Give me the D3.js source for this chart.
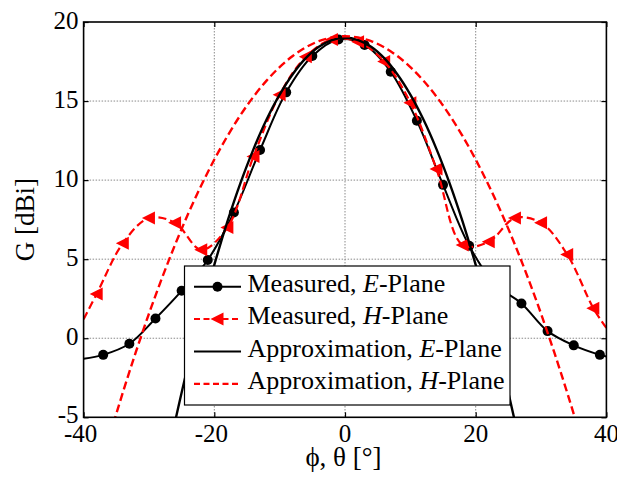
<!DOCTYPE html>
<html>
<head>
<meta charset="utf-8">
<script src="https://cdn.jsdelivr.net/npm/d3@7/dist/d3.min.js"></script>
<style>
  html, body { margin: 0; padding: 0; background: #fff; }
  svg { display: block; }
  text { font-family: "Liberation Serif", "Times New Roman", serif; fill: #000; }
</style>
</head>
<body>
<svg id="chart" width="617" height="478"></svg>
<script>
// Axis ticks
const xTicks = [-40, -20, 0, 20, 40];
const yTicks = [-5, 0, 5, 10, 15, 20];

// Measured gain, E-plane (markers every 4 degrees)
const measEAngle = [-37, -33, -29, -25, -21, -17, -13, -9, -5, -1, 3, 7, 11, 15, 19, 23, 27, 31, 35, 39];
const measEGain  = [-1.05, -0.35, 1.25, 3.0, 4.95, 7.95, 11.9, 15.55, 17.85, 18.9, 18.55, 16.85, 13.75, 9.7, 5.85, 3.4, 2.2, 0.45, -0.45, -1.05];
// Measured gain, H-plane
const measHAngle = [-38, -34, -30, -26, -22, -18, -14, -10, -6, -2, 2, 6, 10, 14, 18, 22, 26, 30, 34, 38];
const measHGain  = [2.8, 6.0, 7.6, 7.3, 5.6, 7.0, 11.5, 15.4, 17.8, 18.9, 18.75, 17.5, 14.9, 10.7, 5.9, 6.1, 7.6, 7.3, 5.3, 1.9];
// Measured traces continue to the axis limits without markers
const edgeAngle = [-40, 40];
const measEEdge = [-1.3, -1.15];
const measHEdge = [1.2, 0.65];

// Approximated patterns
const apprEAngle = [-28, -26, -24, -22, -20, -18, -16, -14, -12, -10, -8, -6, -4, -2, 0, 2, 4, 6, 8, 10, 12, 14, 16, 18, 20, 22, 24, 26, 28];
const apprEGain  = [-9.1, -5.27, -1.68, 1.62, 4.64, 7.37, 9.81, 11.96, 13.83, 15.41, 16.7, 17.71, 18.43, 18.86, 19.0, 18.86, 18.43, 17.71, 16.7, 15.41, 13.83, 11.96, 9.81, 7.37, 4.64, 1.62, -1.68, -5.27, -9.1];
const apprHAngle = [-38, -36, -34, -32, -30, -28, -26, -24, -22, -20, -18, -16, -14, -12, -10, -8, -6, -4, -2, 0, 2, 4, 6, 8, 10, 12, 14, 16, 18, 20, 22, 24, 26, 28, 30, 32, 34, 36, 38];
const apprHGain  = [-9.06, -6.17, -3.44, -0.87, 1.55, 3.81, 5.92, 7.87, 9.66, 11.3, 12.78, 14.11, 15.28, 16.29, 17.15, 17.85, 18.4, 18.79, 19.02, 19.1, 19.02, 18.79, 18.4, 17.85, 17.15, 16.29, 15.28, 14.11, 12.78, 11.3, 9.66, 7.87, 5.92, 3.81, 1.55, -0.87, -3.44, -6.17, -9.06];

const legendLabels = [
  ["Measured,", "E", "-Plane"],
  ["Measured,", "H", "-Plane"],
  ["Approximation,", "E", "-Plane"],
  ["Approximation,", "H", "-Plane"]
];

const svg = d3.select("#chart");
const L = 83.6, R = 606.4, T = 22, B = 417.3;
const x = d3.scaleLinear().domain([-40, 40]).range([L, R]);
const y = d3.scaleLinear().domain([-5, 20]).range([B, T]);

const zip = (a, b) => a.map((v, i) => [v, b[i]]);
const withEdges = (ang, val, edge) =>
  [[edgeAngle[0], edge[0]], ...zip(ang, val), [edgeAngle[1], edge[1]]];

svg.append("defs").append("clipPath").attr("id", "plotClip")
  .append("rect").attr("x", L).attr("y", T).attr("width", R - L).attr("height", B - T);

// Grid
const grid = svg.append("g");
grid.selectAll(".gx").data(xTicks.slice(1, -1)).join("line")
  .attr("x1", d => x(d)).attr("x2", d => x(d)).attr("y1", T).attr("y2", B)
  .attr("stroke", "#8a8a8a").attr("stroke-width", 1).attr("stroke-dasharray", "1.5,1.5");
grid.selectAll(".gy").data(yTicks.slice(1, -1)).join("line")
  .attr("x1", L).attr("x2", R).attr("y1", d => y(d)).attr("y2", d => y(d))
  .attr("stroke", "#8a8a8a").attr("stroke-width", 1).attr("stroke-dasharray", "1.5,1.5");

// Axes with inward ticks on all sides
const tk = 5;
svg.append("g").attr("transform", `translate(0,${B})`)
  .call(d3.axisBottom(x).tickValues(xTicks).tickSize(-tk).tickFormat(""))
  .call(g => g.select(".domain").remove());
svg.append("g").attr("transform", `translate(0,${T})`)
  .call(d3.axisTop(x).tickValues(xTicks).tickSize(-tk).tickFormat(""))
  .call(g => g.select(".domain").remove());
svg.append("g").attr("transform", `translate(${L},0)`)
  .call(d3.axisLeft(y).tickValues(yTicks).tickSize(-tk).tickFormat(""))
  .call(g => g.select(".domain").remove());
svg.append("g").attr("transform", `translate(${R},0)`)
  .call(d3.axisRight(y).tickValues(yTicks).tickSize(-tk).tickFormat(""))
  .call(g => g.select(".domain").remove());
svg.selectAll(".tick line").attr("stroke", "#000").attr("stroke-width", 1.2);

// Tick labels
svg.append("g").selectAll("text").data(xTicks).join("text")
  .attr("x", d => x(d) - (d < 0 ? 3 : 0)).attr("y", 442)
  .attr("text-anchor", "middle").attr("font-size", 25)
  .text(d => d);
svg.append("g").selectAll("text").data(yTicks).join("text")
  .attr("x", 78.5).attr("y", d => y(d) + (d === -5 ? 5.5 : 7))
  .attr("text-anchor", "end").attr("font-size", 25)
  .text(d => d);

// Axis titles
svg.append("text").attr("x", 343.5).attr("y", 466).attr("text-anchor", "middle")
  .attr("font-size", 27).text("\u03D5, \u03B8 [\u00B0]");
svg.append("text").attr("transform", "translate(33.5,219.7) rotate(-90)")
  .attr("text-anchor", "middle").attr("font-size", 27).text("G [dBi]");

// Series
const line = d3.line().x(d => x(d[0])).y(d => y(d[1])).curve(d3.curveCatmullRom.alpha(0.5));
const plot = svg.append("g").attr("clip-path", "url(#plotClip)");

const triPath = "M-7,0L6,-6.5L6,6.5Z";

// Measured E-plane
plot.append("path").datum(withEdges(measEAngle, measEGain, measEEdge))
  .attr("d", line).attr("fill", "none").attr("stroke", "#000").attr("stroke-width", 2);
plot.append("g").selectAll("circle").data(zip(measEAngle, measEGain)).join("circle")
  .attr("cx", d => x(d[0])).attr("cy", d => y(d[1])).attr("r", 5).attr("fill", "#000");

// Measured H-plane
plot.append("path").datum(withEdges(measHAngle, measHGain, measHEdge))
  .attr("d", line).attr("fill", "none").attr("stroke", "#ff0000").attr("stroke-width", 2.2)
  .attr("stroke-dasharray", "8,4");
plot.append("g").selectAll("path").data(zip(measHAngle, measHGain)).join("path")
  .attr("d", triPath).attr("transform", d => `translate(${x(d[0])},${y(d[1])})`)
  .attr("fill", "#ff0000");

// Approximation E-plane
plot.append("path").datum(zip(apprEAngle, apprEGain))
  .attr("d", line).attr("fill", "none").attr("stroke", "#000").attr("stroke-width", 2.4);

// Approximation H-plane
plot.append("path").datum(zip(apprHAngle, apprHGain))
  .attr("d", line).attr("fill", "none").attr("stroke", "#ff0000").attr("stroke-width", 2.4)
  .attr("stroke-dasharray", "8,4");

// Plot frame
svg.append("rect").attr("x", L).attr("y", T).attr("width", R - L).attr("height", B - T)
  .attr("fill", "none").attr("stroke", "#000").attr("stroke-width", 1.6);

// Legend
const leg = svg.append("g");
leg.append("rect").attr("x", 184.5).attr("y", 266).attr("width", 325.5).attr("height", 139)
  .attr("fill", "#fff").attr("stroke", "#000").attr("stroke-width", 1.2);
const styles = [
  { color: "#000", dash: null, marker: "circle", w: 2 },
  { color: "#ff0000", dash: "6,3.5", marker: "tri", w: 2 },
  { color: "#000", dash: null, marker: null, w: 2.2 },
  { color: "#ff0000", dash: "6,3.5", marker: null, w: 2.2 }
];
legendLabels.forEach((lab, i) => {
  const base = 291.7 + i * 32.4;
  const ly = base - 5;
  const s = styles[i];
  leg.append("line").attr("x1", 194).attr("x2", 241).attr("y1", ly).attr("y2", ly)
    .attr("stroke", s.color).attr("stroke-width", s.w).attr("stroke-dasharray", s.dash);
  if (s.marker === "circle") {
    leg.append("circle").attr("cx", 217.5).attr("cy", ly).attr("r", 5).attr("fill", s.color);
  } else if (s.marker === "tri") {
    leg.append("path").attr("d", triPath).attr("transform", `translate(217.5,${ly})`).attr("fill", s.color);
  }
  const t = leg.append("text").attr("x", 247.5).attr("y", base).attr("font-size", 26);
  t.append("tspan").text(lab[0] + " ");
  t.append("tspan").attr("font-style", "italic").text(lab[1]);
  t.append("tspan").text(lab[2]);
});
</script>
</body>
</html>
